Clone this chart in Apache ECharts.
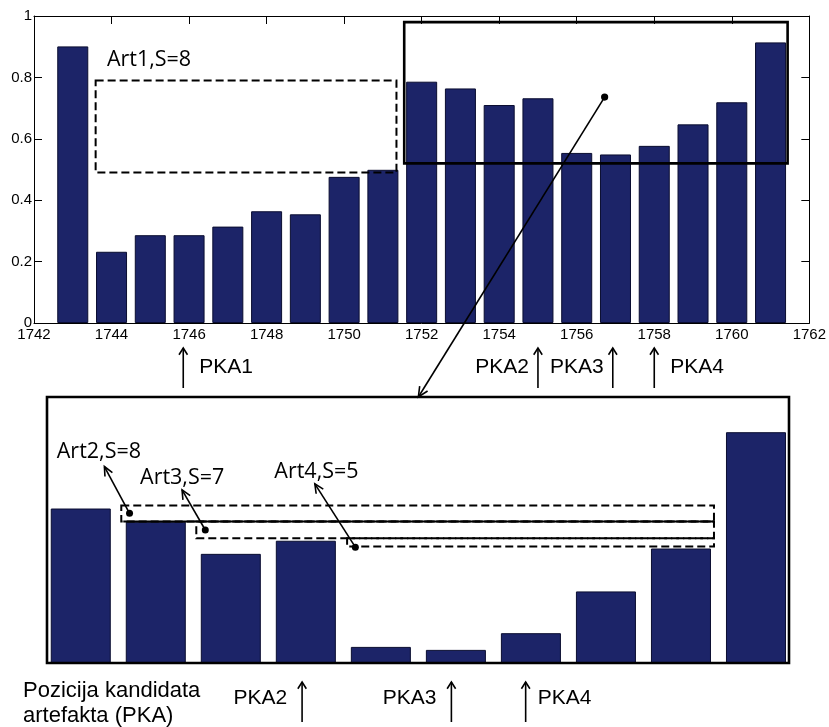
<!DOCTYPE html>
<html><head><meta charset="utf-8">
<script src="https://cdn.jsdelivr.net/npm/echarts@6/dist/echarts.min.js"></script>
<style>html,body{margin:0;padding:0;background:#fff}#c{width:829px;height:727px}</style>
</head><body><div id="c"></div>
<script>
// ---- data ----
const years  = [1743,1744,1745,1746,1747,1748,1749,1750,1751,1752,1753,1754,1755,1756,1757,1758,1759,1760,1761];
const values = [0.901,0.232,0.286,0.286,0.314,0.364,0.354,0.476,0.499,0.786,0.764,0.710,0.732,0.554,0.549,0.577,0.647,0.719,0.914];
const xRange = [1742, 1762];
const xStep = 2;
const yRange = [0, 1];
const yStep = 0.2;
// zoomed window (bottom panel) = solid rectangle in the top panel
const zoomX = [1751.55, 1761.44];
const zoomY = [0.527, 0.973];
const zoomBoxY = [0.52, 0.98];
// annotations (data coordinates)
const art1Box = {x:[1743.59, 1751.35], y:[0.49, 0.79]};
const art1Label = {text:'Art1,S=8', x:1743.88, y:0.857};
const connectorFrom = [1756.72, 0.736];
const connectorToX = 1756.5;
const artBoxes = [
  {x:[1752.54, 1760.44], y:[0.7642, 0.7910]},
  {x:[1753.54, 1760.44], y:[0.7363, 0.7642]},
  {x:[1755.55, 1760.44], y:[0.7222, 0.7363]}
];
const artSolidLine = {x:[1752.54, 1760.44], y:0.7642};
const artLabels = [
  {text:'Art2,S=8', x:1751.68, y:0.8815, tip:[1752.315, 0.8564], dot:[1752.65, 0.778]},
  {text:'Art3,S=7', x:1752.79, y:0.837,  tip:[1753.35, 0.8173],  dot:[1753.66, 0.750]},
  {text:'Art4,S=5', x:1754.58, y:0.848,  tip:[1755.12, 0.8274],  dot:[1755.66, 0.7212]}
];
const pkaTop = [
  {name:'PKA1', x:1745.85, side:'right'},
  {name:'PKA2', x:1755.0,  side:'left'},
  {name:'PKA3', x:1756.93, side:'left'},
  {name:'PKA4', x:1758.0,  side:'right'}
];
const pkaBottom = [
  {name:'PKA2', x:1754.95, side:'left'},
  {name:'PKA3', x:1756.94, side:'left'},
  {name:'PKA4', x:1757.93, side:'right'}
];
const footLabel = 'Pozicija kandidata\nartefakta (PKA)';

// ---- chart ----
const BAR = '#1c2468';
const chart = echarts.init(document.getElementById('c'), null, {renderer:'canvas'});
const barData = years.map((y,i)=>[y, values[i]]);
const tickFont = {fontFamily:'Liberation Sans', fontSize:15, color:'#000'};

const option = {
  animation:false,
  backgroundColor:'#fff',
  grid:[
    {left:34, top:16, width:777, height:307, show:false},
    {left:47, top:397, width:742, height:266, show:false}
  ],
  xAxis:[
    {gridIndex:0, type:'value', min:xRange[0], max:xRange[1], interval:xStep, position:'bottom',
     axisLine:{show:true, onZero:false, lineStyle:{color:'#000', width:1}},
     axisTick:{show:true, inside:true, length:8, lineStyle:{color:'#000'}},
     axisLabel:Object.assign({margin:4, formatter:v=>String(v)}, tickFont),
     splitLine:{show:false}},
    {gridIndex:0, type:'value', min:xRange[0], max:xRange[1], interval:xStep, position:'top',
     axisLine:{show:true, onZero:false, lineStyle:{color:'#000', width:1}},
     axisTick:{show:true, inside:true, length:8, lineStyle:{color:'#000'}},
     axisLabel:{show:false}, splitLine:{show:false}},
    {gridIndex:1, type:'value', min:zoomX[0], max:zoomX[1], show:false, splitLine:{show:false}}
  ],
  yAxis:[
    {gridIndex:0, type:'value', min:yRange[0], max:yRange[1], interval:yStep, position:'left',
     axisLine:{show:true, onZero:false, lineStyle:{color:'#000', width:1}},
     axisTick:{show:true, inside:true, length:8, lineStyle:{color:'#000'}},
     axisLabel:Object.assign({margin:2}, tickFont),
     splitLine:{show:false}},
    {gridIndex:0, type:'value', min:yRange[0], max:yRange[1], interval:yStep, position:'right',
     axisLine:{show:true, onZero:false, lineStyle:{color:'#000', width:1}},
     axisTick:{show:true, inside:true, length:8, lineStyle:{color:'#000'}},
     axisLabel:{show:false}, splitLine:{show:false}},
    {gridIndex:1, type:'value', min:zoomY[0], max:zoomY[1], show:false, splitLine:{show:false}}
  ],
  series:[
    {type:'bar', xAxisIndex:0, yAxisIndex:0, data:barData, barWidth:'80%', clip:true,
     itemStyle:{color:BAR, borderColor:'#0a0d30', borderWidth:1}},
    {type:'bar', xAxisIndex:2, yAxisIndex:2, data:barData, barWidth:'80%', clip:true,
     itemStyle:{color:BAR, borderColor:'#0a0d30', borderWidth:1}}
  ]
};
chart.setOption(option);

function P0(x,y){ return chart.convertToPixel({xAxisIndex:0, yAxisIndex:0}, [x,y]); }
function P1(x,y){ return chart.convertToPixel({xAxisIndex:2, yAxisIndex:2}, [x,y]); }
function head(tip, from, len, ang){
  const dx = tip[0]-from[0], dy = tip[1]-from[1];
  const L = Math.hypot(dx,dy); const ux = dx/L, uy = dy/L;
  const a = ang*Math.PI/180;
  const r = (s)=>[tip[0] - len*(ux*Math.cos(s*a) - uy*Math.sin(s*a)),
                  tip[1] - len*(uy*Math.cos(s*a) + ux*Math.sin(s*a))];
  return {type:'polyline', z:120, shape:{points:[r(1), tip, r(-1)]}, style:{stroke:'#000', lineWidth:1.6, fill:null}};
}
function rectEl(a, b, dashed, lw){
  return {type:'rect', z:110, shape:{x:Math.min(a[0],b[0]), y:Math.min(a[1],b[1]), width:Math.abs(b[0]-a[0]), height:Math.abs(b[1]-a[1])},
    style:{stroke:'#000', fill:null, lineWidth:lw, lineDash: dashed ? [8,4] : null}};
}
function text(t, x, y, font, align){
  return {type:'text', z:120, style:{text:t, x:x, y:y, font:font, fill:'#000', align:align||'left', verticalAlign:'middle', textAlign:align||'left', textVerticalAlign:'middle'}};
}
const artFont = '21.5px "Open Sans"';
const pkaFont = '21px "Liberation Sans"';
const footFont = '22px "Liberation Sans"';

const els = [];
// top panel annotations
els.push(rectEl(P0(art1Box.x[0], art1Box.y[1]), P0(art1Box.x[1], art1Box.y[0]), true, 2));
els.push(rectEl(P0(zoomX[0], zoomBoxY[1]), P0(zoomX[1], zoomBoxY[0]), false, 2.6));
let p = P0(art1Label.x, art1Label.y);
els.push(text(art1Label.text, p[0], p[1], artFont));
// connector
const cf = P0(connectorFrom[0], connectorFrom[1]);
const ct = P1(connectorToX, zoomY[1]);
els.push({type:'line', z:120, shape:{x1:cf[0], y1:cf[1], x2:ct[0], y2:ct[1]}, style:{stroke:'#000', lineWidth:1.6}});
els.push(head(ct, cf, 11, 25));
els.push({type:'circle', z:121, shape:{cx:cf[0], cy:cf[1], r:3.6}, style:{fill:'#000'}});
// bottom panel frame
const b0 = P1(zoomX[0], zoomY[1]), b1 = P1(zoomX[1], zoomY[0]);
els.push(rectEl(b0, b1, false, 2.6));
// art boxes
artBoxes.forEach(b=>{
  els.push(rectEl(P1(b.x[0], b.y[1]), P1(b.x[1], b.y[0]), true, 2));
});
const sl0 = P1(artSolidLine.x[0], artSolidLine.y), sl1 = P1(artSolidLine.x[1], artSolidLine.y);
els.push({type:'line', z:112, shape:{x1:sl0[0]+2, y1:sl0[1], x2:sl1[0], y2:sl1[1]}, style:{stroke:'#000', lineWidth:2}});
artLabels.forEach(a=>{
  const lp = P1(a.x, a.y);
  els.push(text(a.text, lp[0], lp[1], artFont));
  const tp = P1(a.tip[0], a.tip[1]), dp = P1(a.dot[0], a.dot[1]);
  els.push({type:'line', z:120, shape:{x1:dp[0], y1:dp[1], x2:tp[0], y2:tp[1]}, style:{stroke:'#000', lineWidth:1.6}});
  els.push(head(tp, dp, 10, 25));
  els.push({type:'circle', z:121, shape:{cx:dp[0], cy:dp[1], r:3.5}, style:{fill:'#000'}});
});
// PKA arrows
function pka(list, Pf, baseY, tipOff, tailOff, textOff, gapL, gapR){
  list.forEach(k=>{
    const x = Pf(k.x, baseY)[0];
    const y0 = Pf(k.x, baseY)[1];
    const tip = [x, y0+tipOff], tail = [x, y0+tailOff];
    els.push({type:'line', z:120, shape:{x1:tail[0], y1:tail[1], x2:tip[0], y2:tip[1]}, style:{stroke:'#000', lineWidth:1.6}});
    els.push(head(tip, tail, 8, 32));
    if (k.side==='right') els.push(text(k.name, x+gapR, y0+textOff, pkaFont, 'left'));
    else els.push(text(k.name, x-gapL, y0+textOff, pkaFont, 'right'));
  });
}
pka(pkaTop, P0, yRange[0], 25, 65, 44, 9, 16);
pka(pkaBottom, P1, zoomY[0], 19, 59, 35, 15, 12);
// footnote
const fl = P1(zoomX[0], zoomY[0]);
els.push({type:'text', z:120, style:{text:footLabel, x:23, y:fl[1]+16, font:footFont, fill:'#000', lineHeight:24.5, align:'left', verticalAlign:'top'}});

chart.setOption({graphic:{elements:els}});
</script>
</body></html>
